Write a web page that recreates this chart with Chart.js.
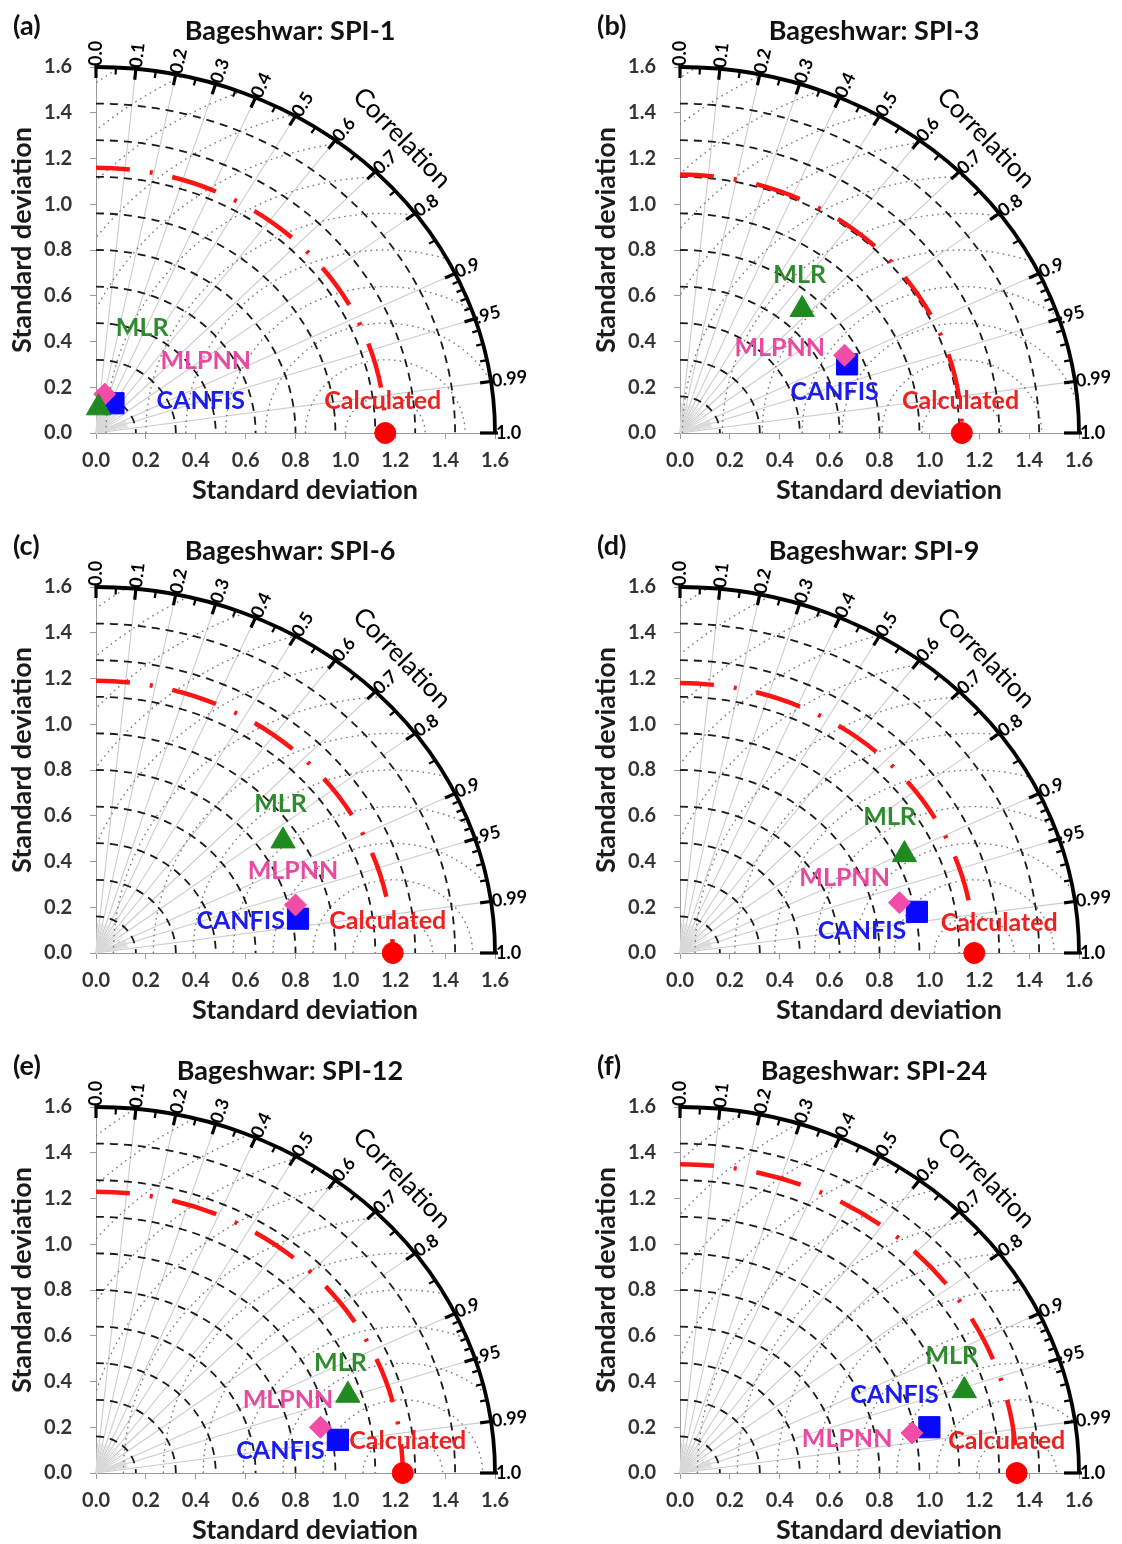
<!DOCTYPE html>
<html><head><meta charset="utf-8">
<script src="https://cdn.jsdelivr.net/npm/chart.js@4.4.0/dist/chart.umd.min.js"></script>
<style>
body{margin:0;background:#fff;width:1122px;height:1544px;overflow:hidden;position:relative;}
.p{position:absolute;}
</style></head><body>
<div class="p" style="left:0;top:0"><canvas id="c0" width="538" height="505"></canvas></div>
<div class="p" style="left:584px;top:0"><canvas id="c1" width="538" height="505"></canvas></div>
<div class="p" style="left:0;top:520px"><canvas id="c2" width="538" height="505"></canvas></div>
<div class="p" style="left:584px;top:520px"><canvas id="c3" width="538" height="505"></canvas></div>
<div class="p" style="left:0;top:1040px"><canvas id="c4" width="538" height="505"></canvas></div>
<div class="p" style="left:584px;top:1040px"><canvas id="c5" width="538" height="505"></canvas></div>
<script>
// ---------------- data ----------------
const panelTags = ['(a)', '(b)', '(c)', '(d)', '(e)', '(f)'];
const panelTitles = ['Bageshwar: SPI-1', 'Bageshwar: SPI-3', 'Bageshwar: SPI-6', 'Bageshwar: SPI-9', 'Bageshwar: SPI-12', 'Bageshwar: SPI-24'];
const axisTitle = 'Standard deviation';
const calculatedSD = [1.16, 1.13, 1.19, 1.18, 1.23, 1.35];
const mlrX = [0.01, 0.49, 0.75, 0.90, 1.01, 1.14];
const mlrY = [0.11, 0.54, 0.49, 0.43, 0.34, 0.36];
const mlpnnX = [0.035, 0.66, 0.80, 0.88, 0.90, 0.93];
const mlpnnY = [0.17, 0.34, 0.21, 0.22, 0.20, 0.175];
const canfisX = [0.07, 0.67, 0.81, 0.95, 0.97, 1.00];
const canfisY = [0.13, 0.30, 0.15, 0.18, 0.145, 0.20];
const sdTickValues = [0, 0.2, 0.4, 0.6, 0.8, 1.0, 1.2, 1.4, 1.6];
const sdMax = 1.6;
const corrMajor = [0.0, 0.1, 0.2, 0.3, 0.4, 0.5, 0.6, 0.7, 0.8, 0.9, 0.95, 0.99, 1.0];
const corrLabels = ['0.0', '0.1', '0.2', '0.3', '0.4', '0.5', '0.6', '0.7', '0.8', '0.9', '.95', '0.99', '1.0'];
const corrMinor = [0.05, 0.15, 0.25, 0.35, 0.45, 0.55, 0.65, 0.75, 0.85, 0.91, 0.92, 0.93, 0.94, 0.96, 0.97, 0.98];
const sdArcs = [0.16, 0.32, 0.48, 0.64, 0.80, 0.96, 1.12, 1.28, 1.44];
const rmsArcs = [0.16, 0.32, 0.48, 0.64, 0.80, 0.96, 1.12, 1.28, 1.44, 1.60, 1.76, 1.92, 2.08];
const modelNames = ['MLR', 'MLPNN', 'CANFIS', 'Calculated'];

// ---------------- layout (label anchor positions, in axis units) ----------------
const labelPos = [
  {MLR:[0.185,0.46], MLPNN:[0.44,0.315], CANFIS:[0.42,0.14], Calculated:[1.15,0.14]},
  {MLR:[0.48,0.69],  MLPNN:[0.40,0.37],  CANFIS:[0.62,0.18], Calculated:[1.125,0.14]},
  {MLR:[0.74,0.65],  MLPNN:[0.79,0.36],  CANFIS:[0.58,0.14], Calculated:[1.17,0.14]},
  {MLR:[0.84,0.595], MLPNN:[0.66,0.33],  CANFIS:[0.73,0.095],Calculated:[1.28,0.13]},
  {MLR:[0.98,0.48],  MLPNN:[0.77,0.32],  CANFIS:[0.74,0.095],Calculated:[1.25,0.14]},
  {MLR:[1.09,0.51],  MLPNN:[0.67,0.15],  CANFIS:[0.86,0.34], Calculated:[1.31,0.14]}
];
const textColors = {MLR:'#2e8b2e', MLPNN:'#e84a9f', CANFIS:'#1c1cee', Calculated:'#f02020'};
const FONT = 'Lato, "Open Sans", sans-serif';

const taylorPlugin = {
  id: 'taylor',
  beforeDatasetsDraw(chart, args, opts) {
    const i = opts.panel;
    const ref = calculatedSD[i];
    const {ctx} = chart;
    const xs = chart.scales.x, ys = chart.scales.y;
    const ox = xs.getPixelForValue(0), oy = ys.getPixelForValue(0);
    const kx = xs.getPixelForValue(1) - ox, ky = oy - ys.getPixelForValue(1);
    const P = (r, c) => { const s = Math.sqrt(Math.max(0, 1 - c * c)); return [ox + r * c * kx, oy - r * s * ky]; };
    const R = sdMax;
    ctx.save();
    // radial correlation lines
    ctx.strokeStyle = '#cccccc'; ctx.lineWidth = 1.1;
    corrMajor.slice(1, -1).forEach(c => { const [x, y] = P(R, c); ctx.beginPath(); ctx.moveTo(ox, oy); ctx.lineTo(x, y); ctx.stroke(); });
    ctx.strokeStyle = '#dadada'; ctx.lineWidth = 1;
    corrMinor.forEach(c => { const [x, y] = P(0.13, c); ctx.beginPath(); ctx.moveTo(ox, oy); ctx.lineTo(x, y); ctx.stroke(); });
    // RMS circles around reference (clipped to the quadrant)
    ctx.save();
    ctx.beginPath(); ctx.moveTo(ox, oy); ctx.ellipse(ox, oy, R * kx, R * ky, 0, -Math.PI / 2, 0); ctx.closePath(); ctx.clip();
    ctx.setLineDash([1.6, 4]); ctx.strokeStyle = '#7a7a7a'; ctx.lineWidth = 1.4;
    rmsArcs.forEach(r => { ctx.beginPath(); ctx.ellipse(ox + ref * kx, oy, r * kx, r * ky, 0, Math.PI, 2 * Math.PI); ctx.stroke(); });
    ctx.restore();
    // standard deviation dashed arcs
    ctx.setLineDash([8, 6]); ctx.strokeStyle = '#1a1a1a'; ctx.lineWidth = 1.8;
    sdArcs.forEach(r => { ctx.beginPath(); ctx.ellipse(ox, oy, r * kx, r * ky, 0, -Math.PI / 2, 0); ctx.stroke(); });
    // reference (Calculated) arc
    ctx.setLineDash([46, 20, 3, 20]); ctx.lineDashOffset = 12; ctx.strokeStyle = '#ff1414'; ctx.lineWidth = 4.5;
    ctx.beginPath(); ctx.ellipse(ox, oy, ref * kx, ref * ky, 0, -Math.PI / 2, 0); ctx.stroke();
    ctx.lineDashOffset = 0;
    // outer arc
    ctx.setLineDash([]); ctx.strokeStyle = '#000'; ctx.lineWidth = 3.8;
    ctx.beginPath(); ctx.ellipse(ox, oy, R * kx, R * ky, 0, -Math.PI / 2, 0); ctx.stroke();
    // ticks on outer arc
    const tick = (c, lin, lout, w) => {
      const [x, y] = P(R, c); const dx = ox - x, dy = oy - y, L = Math.hypot(dx, dy);
      const ux = dx / L, uy = dy / L; ctx.lineWidth = w;
      ctx.beginPath(); ctx.moveTo(x - ux * lout, y - uy * lout); ctx.lineTo(x + ux * lin, y + uy * lin); ctx.stroke();
    };
    corrMajor.forEach(c => tick(c, c === 1 ? 15 : 11, 3, 3.2));
    corrMinor.forEach(c => tick(c, 7, 0, 2.2));
    // correlation labels
    ctx.fillStyle = '#000'; ctx.font = 'bold 18px ' + FONT; ctx.textAlign = 'left'; ctx.textBaseline = 'middle';
    corrMajor.forEach((c, j) => {
      const [x, y] = P(R, c); const ang = Math.atan2(y - oy, x - ox);
      ctx.save(); ctx.translate(x, y); ctx.rotate(ang); ctx.fillText(corrLabels[j], 1, 0); ctx.restore();
    });
    // "Correlation"
    ctx.save(); ctx.translate(xs.getPixelForValue(1.227), ys.getPixelForValue(1.29)); ctx.rotate(46 * Math.PI / 180);
    ctx.font = '26px ' + FONT; ctx.textAlign = 'center'; ctx.fillText('Correlation', 0, 0); ctx.restore();
    ctx.restore();
  },
  afterDatasetsDraw(chart, args, opts) {
    const i = opts.panel;
    const {ctx} = chart;
    const xs = chart.scales.x, ys = chart.scales.y;
    ctx.save();
    ctx.textAlign = 'center'; ctx.textBaseline = 'middle';
    ctx.font = 'bold 25px ' + FONT;
    modelNames.forEach(m => {
      const p = labelPos[i][m];
      ctx.fillStyle = textColors[m];
      ctx.fillText(m, xs.getPixelForValue(p[0]), ys.getPixelForValue(p[1]));
    });
    // panel tag and title
    ctx.fillStyle = '#111';
    ctx.textAlign = 'left'; ctx.font = 'bold 27px ' + FONT;
    ctx.fillText(panelTags[i], 13, 26);
    ctx.textAlign = 'center'; ctx.font = 'bold 27px ' + FONT;
    ctx.fillText(panelTitles[i], 290, 31);
    // axis titles
    ctx.fillStyle = '#1a1a1a'; ctx.font = 'bold 27px ' + FONT;
    ctx.fillText(axisTitle, 305, 490);
    ctx.save(); ctx.translate(22, 240); ctx.rotate(-Math.PI / 2); ctx.fillText(axisTitle, 0, 0); ctx.restore();
    ctx.restore();
  }
};

function makeChart(i) {
  const tickFont = {family: FONT, size: 20, weight: 'bold'};
  new Chart(document.getElementById('c' + i), {
    type: 'scatter',
    data: {datasets: [
      {label: 'MLR', data: [{x: mlrX[i], y: mlrY[i]}], pointStyle: 'triangle', pointRadius: 14, backgroundColor: '#1f8a1f', borderColor: '#1f8a1f', borderWidth: 1, clip: false},
      {label: 'MLPNN', data: [{x: mlpnnX[i], y: mlpnnY[i]}], pointStyle: 'rectRot', pointRadius: 11, backgroundColor: '#f04ca8', borderColor: '#f04ca8', borderWidth: 1, clip: false},
      {label: 'CANFIS', data: [{x: canfisX[i], y: canfisY[i]}], pointStyle: 'rect', pointRadius: 15, backgroundColor: '#0808ff', borderColor: '#0808ff', borderWidth: 1, clip: false},
      {label: 'Calculated', data: [{x: calculatedSD[i], y: 0}], pointStyle: 'circle', pointRadius: 10.5, backgroundColor: '#ff0000', borderColor: '#ff0000', borderWidth: 1, clip: false}
    ]},
    options: {
      responsive: false, animation: false, events: [],
      layout: {padding: {left: 0, top: 67, right: 43, bottom: 0}},
      plugins: {legend: {display: false}, tooltip: {enabled: false}, title: {display: false}, taylor: {panel: i}},
      scales: {
        x: {type: 'linear', min: 0, max: sdMax,
          afterFit(s) { s.height = 72; },
          afterBuildTicks(s) { s.ticks = sdTickValues.map(v => ({value: v})); },
          ticks: {callback: v => Number(v).toFixed(1), font: tickFont, color: '#333', padding: 10, maxRotation: 0, autoSkip: false},
          grid: {drawOnChartArea: false, drawTicks: true, tickLength: 6, color: '#9a9a9a'},
          border: {color: '#9a9a9a'},
          title: {display: false}},
        y: {type: 'linear', min: 0, max: sdMax,
          afterFit(s) { s.width = 96; },
          afterBuildTicks(s) { s.ticks = sdTickValues.map(v => ({value: v})); },
          ticks: {callback: v => Number(v).toFixed(1), font: tickFont, color: '#333', padding: 18, autoSkip: false},
          grid: {drawOnChartArea: false, drawTicks: true, tickLength: 6, color: '#9a9a9a'},
          border: {color: '#9a9a9a'},
          title: {display: false}}
      }
    },
    plugins: [taylorPlugin]
  });
}
for (let i = 0; i < 6; i++) makeChart(i);
</script>
</body></html>
